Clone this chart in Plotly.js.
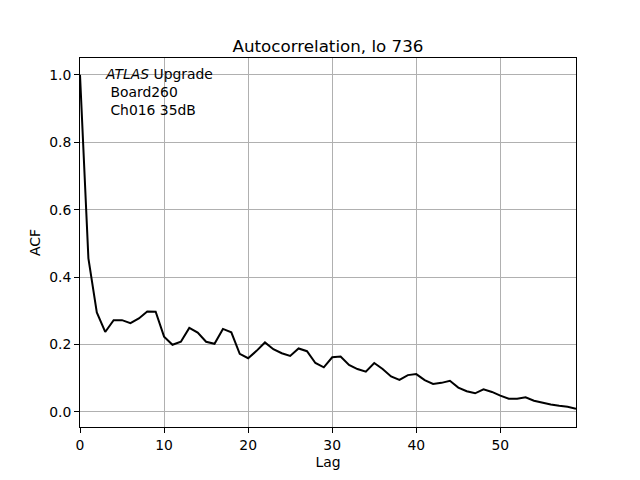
<!DOCTYPE html>
<html>
<head>
<meta charset="utf-8">
<script src="https://cdn.plot.ly/plotly-3.0.1.min.js"></script>
<style>html,body{margin:0;padding:0;background:#fff;}</style>
</head>
<body>
<div id="chart" style="width:640px;height:480px;"></div>
<script>
const lags = [];
for (let i = 0; i < 60; i++) lags.push(i);
const acf = [1.0, 0.455, 0.295, 0.237, 0.272, 0.272, 0.263, 0.277, 0.298, 0.297,
  0.223, 0.199, 0.208, 0.249, 0.235, 0.208, 0.202, 0.246, 0.236, 0.172,
  0.159, 0.181, 0.206, 0.186, 0.174, 0.166, 0.188, 0.180, 0.145, 0.132,
  0.162, 0.164, 0.139, 0.127, 0.119, 0.145, 0.127, 0.105, 0.095, 0.109,
  0.112, 0.094, 0.083, 0.086, 0.092, 0.072, 0.061, 0.055, 0.067, 0.059,
  0.048, 0.039, 0.039, 0.043, 0.033, 0.027, 0.022, 0.018, 0.015, 0.009];
const titleText = "Autocorrelation, lo 736";
const xLabel = "Lag";
const yLabel = "ACF";
const noteText = "<i>ATLAS</i> Upgrade<br>&nbsp;Board260<br>&nbsp;Ch016 35dB";

const font = {family: "DejaVu Sans", size: 13.9, color: "#000"};
const axisCommon = {
  showline: true, linecolor: "#000", linewidth: 1, mirror: true,
  ticks: "outside", ticklen: 5, tickwidth: 1, tickcolor: "#000",
  showgrid: true, gridcolor: "#b0b0b0", gridwidth: 1,
  zeroline: false, tickfont: font
};
Plotly.newPlot("chart", [{
  x: lags, y: acf, type: "scatter", mode: "lines",
  line: {color: "#000", width: 2}
}], {
  width: 640, height: 480,
  margin: {l: 80, r: 64, t: 57.6, b: 52.8},
  paper_bgcolor: "#fff", plot_bgcolor: "#fff",
  font: font,
  showlegend: false,
  title: {text: titleText, font: {family: "DejaVu Sans", size: 16.7, color: "#000"},
    x: 0.5, xref: "paper", y: 1, yref: "paper", yanchor: "bottom", pad: {b: 6}},
  xaxis: Object.assign({}, axisCommon, {range: [0, 59], dtick: 10, tick0: 0,
    title: {text: xLabel, font: font, standoff: 5}}),
  yaxis: Object.assign({}, axisCommon, {range: [-0.045, 1.05], dtick: 0.2, tick0: 0, tickformat: ".1f",
    title: {text: yLabel, font: font, standoff: 5}}),
  annotations: [{
    text: noteText, xref: "paper", yref: "paper", x: 0.046, y: 0.983,
    xanchor: "left", yanchor: "top", align: "left", showarrow: false,
    font: font
  }]
}, {displayModeBar: false});
</script>
</body>
</html>
